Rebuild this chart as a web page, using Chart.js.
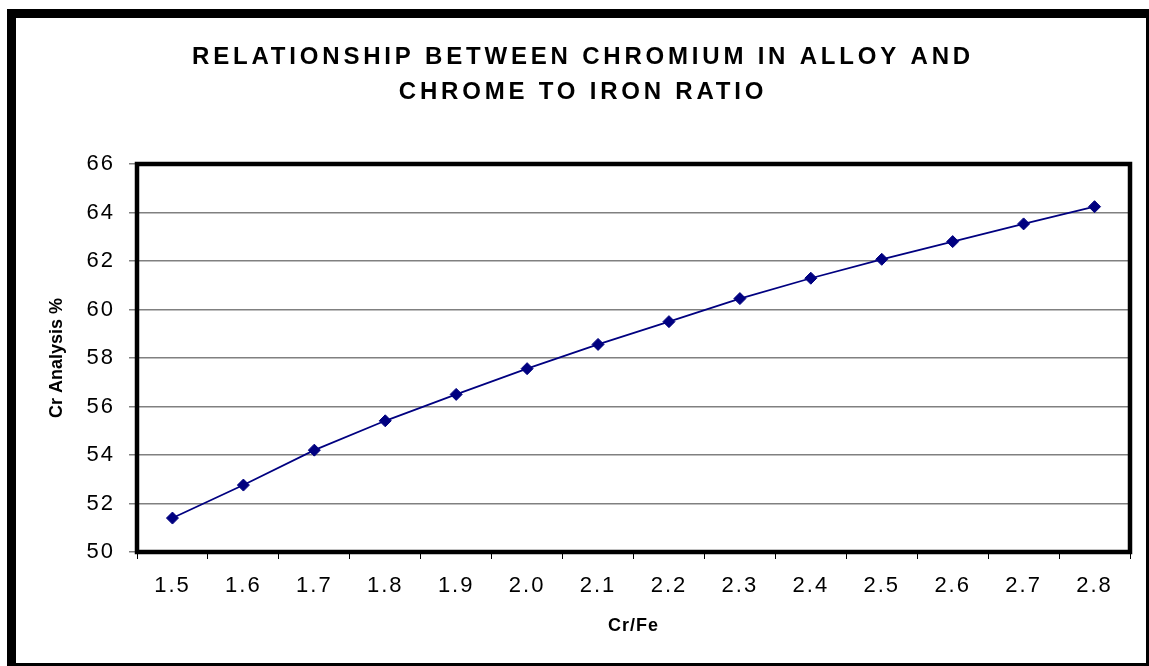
<!DOCTYPE html>
<html>
<head>
<meta charset="utf-8">
<title>Chromium in alloy vs Cr/Fe ratio</title>
<script src="https://cdn.jsdelivr.net/npm/chart.js@4/dist/chart.umd.min.js"></script>
<style>
  body { margin: 0; background: #fff; }
  #frame {
    position: absolute;
    left: 7px;
    top: 9px;
    width: 1142px;
    height: 657px;
    box-sizing: border-box;
    border-left: 9px solid #000;
    border-top: 9px solid #000;
    border-right: 3px solid #000;
    border-bottom: 3px solid #000;
  }
  #box { position: relative; width: 1130px; height: 645px; }
</style>
</head>
<body>
<div id="frame">
  <div id="box"><canvas id="lineChart"></canvas></div>
</div>
<script>
// 차트 데이터
var ratios = ['1.5', '1.6', '1.7', '1.8', '1.9', '2.0', '2.1', '2.2', '2.3', '2.4', '2.5', '2.6', '2.7', '2.8'];
var crAnalysis = [51.4, 52.76, 54.2, 55.41, 56.5, 57.56, 58.56, 59.5, 60.45, 61.29, 62.07, 62.8, 63.53, 64.24];
var yTicks = [50, 52, 54, 56, 58, 60, 62, 64, 66];

var titleLines = ['RELATIONSHIP BETWEEN CHROMIUM IN ALLOY AND', 'CHROME TO IRON RATIO'];

// letterSpacing 은 chart.js 옵션에 없어서 draw 함수를 감싼다
function spaced(obj, name, sp, dx) {
  var fn = obj[name];
  obj[name] = function () {
    var ctx = this.ctx;
    ctx.save();
    ctx.letterSpacing = sp;
    if (dx) ctx.translate(dx, 0); // 간격 때문에 왼쪽으로 밀리는 것 보정
    fn.apply(this, arguments);
    ctx.restore();
  };
}

var spacingPlugin = {
  id: 'spacing',
  beforeDraw: function (chart) {
    if (chart._spaced) return;
    chart._spaced = true;
    spaced(chart.titleBlock, 'draw', '3.8px', 10);
    spaced(chart.scales.x, 'drawLabels', '2px');
    spaced(chart.scales.y, 'drawLabels', '2px');
    spaced(chart.scales.x, 'drawTitle', '1px');
  },
};

// 플롯 영역 굵은 테두리
var plotBorder = {
  id: 'plotBorder',
  beforeDatasetsDraw: function (chart) {
    var a = chart.chartArea;
    var ctx = chart.ctx;
    ctx.save();
    ctx.strokeStyle = '#000';
    ctx.lineWidth = 4.5;
    ctx.strokeRect(a.left, a.top, a.right - a.left, a.bottom - a.top);
    ctx.restore();
  },
};

var ctxLine = document.getElementById('lineChart').getContext('2d');

var chartLine = new Chart(ctxLine, {
  type: 'line',
  data: {
    labels: ratios,
    datasets: [
      {
        label: 'Cr Analysis %',
        data: crAnalysis,
        borderColor: '#000080',
        backgroundColor: '#000080',
        borderWidth: 1.75,
        pointStyle: 'rectRot',
        pointRadius: 6,
        pointBorderWidth: 1,
        pointBackgroundColor: '#000080',
        pointBorderColor: '#000080',
        tension: 0,
        fill: false,
      },
    ],
  },
  options: {
    responsive: true,
    maintainAspectRatio: false,
    animation: false,
    layout: {
      padding: { left: 0, right: 16, top: 0, bottom: 0 },
    },
    plugins: {
      legend: { display: false },
      tooltip: { enabled: false },
      title: {
        display: true,
        text: titleLines,
        color: '#000',
        font: { family: 'Liberation Sans, Arial, sans-serif', size: 24, weight: 'bold', lineHeight: 35 / 24 },
        padding: { top: 21.5, bottom: 54.5 },
      },
    },
    scales: {
      x: {
        type: 'category',
        offset: true,
        grid: {
          offset: true,
          drawOnChartArea: false,
          drawTicks: true,
          tickLength: 7,
          color: '#000',
          lineWidth: 1,
        },
        border: { display: false },
        ticks: {
          color: '#000',
          padding: 14,
          maxRotation: 0,
          font: { family: 'Liberation Sans, Arial, sans-serif', size: 22 },
        },
        title: {
          display: true,
          text: 'Cr/Fe',
          color: '#000',
          font: { family: 'Liberation Sans, Arial, sans-serif', size: 18, weight: 'bold' },
          padding: { top: 0, bottom: 26 },
        },
        afterFit: function (scale) {
          scale.height = 111;
        },
      },
      y: {
        min: 50,
        max: 66,
        afterBuildTicks: function (scale) {
          scale.ticks = yTicks.map(function (v) { return { value: v }; });
        },
        grid: {
          color: '#808080',
          lineWidth: 1.5,
          tickLength: 8,
        },
        border: { display: false },
        ticks: {
          color: '#000',
          padding: 14,
          font: { family: 'Liberation Sans, Arial, sans-serif', size: 22 },
        },
        title: {
          display: true,
          text: 'Cr Analysis %',
          color: '#000',
          font: { family: 'Liberation Sans, Arial, sans-serif', size: 18, weight: 'bold' },
          padding: { top: 30, bottom: 0 },
        },
        afterFit: function (scale) {
          scale.width = 121;
        },
      },
    },
  },
  plugins: [spacingPlugin, plotBorder],
});
</script>
</body>
</html>
